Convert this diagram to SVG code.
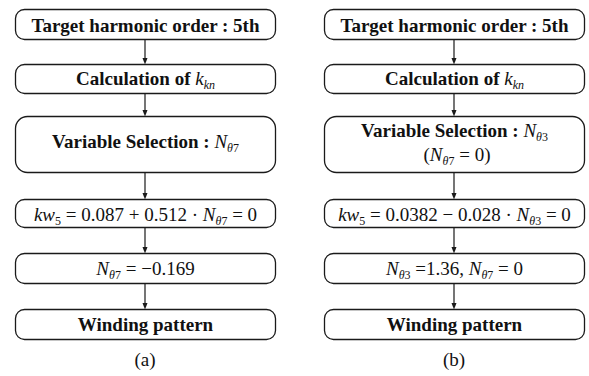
<svg xmlns="http://www.w3.org/2000/svg" width="589" height="376" viewBox="0 0 589 376">
<style>
.box{fill:#fff;stroke:#1a1a1a;stroke-width:1.3}
text,tspan{font-family:'Liberation Serif','Times New Roman',serif !important}
.b{font-weight:bold;font-size:19px;fill:#111}
.m{font-size:19px;fill:#111;font-weight:normal}
.i{font-style:italic}
.s{font-size:12px}
.lab{font-size:19px;fill:#111}
.c{stroke:#1a1a1a;stroke-width:1.2;fill:none}
.h{fill:#1a1a1a;stroke:none}
</style>
<rect width="589" height="376" fill="#fff"/>
<g id="connectors">
<line class="c" x1="145" y1="39" x2="145" y2="59"/><path class="h" d="M142.5,58 L147.5,58 L145,64.5 z"/>
<line class="c" x1="145" y1="93" x2="145" y2="111"/><path class="h" d="M142.5,110 L147.5,110 L145,116.5 z"/>
<line class="c" x1="145" y1="172" x2="145" y2="194"/><path class="h" d="M142.5,193 L147.5,193 L145,199.5 z"/>
<line class="c" x1="145" y1="227" x2="145" y2="248"/><path class="h" d="M142.5,247 L147.5,247 L145,253.5 z"/>
<line class="c" x1="145" y1="283" x2="145" y2="304"/><path class="h" d="M142.5,303 L147.5,303 L145,309.5 z"/>
<line class="c" x1="454" y1="39" x2="454" y2="59"/><path class="h" d="M451.5,58 L456.5,58 L454,64.5 z"/>
<line class="c" x1="454" y1="93" x2="454" y2="111"/><path class="h" d="M451.5,110 L456.5,110 L454,116.5 z"/>
<line class="c" x1="454" y1="172" x2="454" y2="194"/><path class="h" d="M451.5,193 L456.5,193 L454,199.5 z"/>
<line class="c" x1="454" y1="227" x2="454" y2="248"/><path class="h" d="M451.5,247 L456.5,247 L454,253.5 z"/>
<line class="c" x1="454" y1="283" x2="454" y2="304"/><path class="h" d="M451.5,303 L456.5,303 L454,309.5 z"/>
</g>
<g id="a1"><rect class="box" x="15.5" y="9.5" width="260" height="30" rx="9"/>
<text class="b" style="font-family:'Liberation Serif',serif !important" x="145.5" y="31.5" text-anchor="middle">Target harmonic order : 5th</text></g>
<g id="a2"><rect class="box" x="15.5" y="64.5" width="260" height="29" rx="9"/>
<text class="b" style="font-family:'Liberation Serif',serif !important" x="145.5" y="85" text-anchor="middle">Calculation of  <tspan class="m i">k</tspan><tspan class="m i s" dy="4">kn</tspan></text></g>
<g id="a3"><rect class="box" x="15.5" y="116.5" width="260" height="56" rx="12"/>
<text class="b" style="font-family:'Liberation Serif',serif !important" x="145.5" y="148" text-anchor="middle">Variable Selection :  <tspan class="m i">N</tspan><tspan class="m i s" dy="4">θ</tspan><tspan class="m s">7</tspan></text></g>
<g id="a4"><rect class="box" x="15.5" y="199.5" width="260" height="28" rx="9"/>
<text class="m" style="font-family:'Liberation Serif',serif !important" x="145.5" y="221" text-anchor="middle"><tspan class="i">kw</tspan><tspan class="s" dy="4">5</tspan><tspan dy="-4"> = 0.087 + 0.512 · </tspan><tspan class="i">N</tspan><tspan class="i s" dy="4">θ</tspan><tspan class="s">7</tspan><tspan dy="-4"> = 0</tspan></text></g>
<g id="a5"><rect class="box" x="15.5" y="253.5" width="260" height="30" rx="9"/>
<text class="m" style="font-family:'Liberation Serif',serif !important" x="145.5" y="274.5" text-anchor="middle"><tspan class="i">N</tspan><tspan class="i s" dy="4">θ</tspan><tspan class="s">7</tspan><tspan dy="-4"> = −0.169</tspan></text></g>
<g id="a6"><rect class="box" x="15.5" y="309.5" width="260" height="30" rx="9"/>
<text class="b" style="font-family:'Liberation Serif',serif !important" x="145.5" y="330.5" text-anchor="middle">Winding pattern</text></g>
<text class="lab" style="font-family:'Liberation Serif',serif !important" x="145" y="366" text-anchor="middle">(a)</text>

<g id="b1"><rect class="box" x="324.5" y="9.5" width="260" height="30" rx="9"/>
<text class="b" style="font-family:'Liberation Serif',serif !important" x="454.5" y="31.5" text-anchor="middle">Target harmonic order : 5th</text></g>
<g id="b2"><rect class="box" x="324.5" y="64.5" width="260" height="29" rx="9"/>
<text class="b" style="font-family:'Liberation Serif',serif !important" x="454.5" y="85" text-anchor="middle">Calculation of  <tspan class="m i">k</tspan><tspan class="m i s" dy="4">kn</tspan></text></g>
<g id="b3"><rect class="box" x="324.5" y="116.5" width="260" height="56" rx="12"/>
<text class="b" style="font-family:'Liberation Serif',serif !important" x="454.5" y="137" text-anchor="middle">Variable Selection :  <tspan class="m i">N</tspan><tspan class="m i s" dy="4">θ</tspan><tspan class="m s">3</tspan></text>
<text class="m" style="font-family:'Liberation Serif',serif !important" x="457" y="161" text-anchor="middle">(<tspan class="i">N</tspan><tspan class="i s" dy="4">θ</tspan><tspan class="s">7</tspan><tspan dy="-4"> = 0)</tspan></text></g>
<g id="b4"><rect class="box" x="324.5" y="199.5" width="260" height="28" rx="9"/>
<text class="m" style="font-family:'Liberation Serif',serif !important" x="454.5" y="221" text-anchor="middle"><tspan class="i">kw</tspan><tspan class="s" dy="4">5</tspan><tspan dy="-4"> = 0.0382 − 0.028 · </tspan><tspan class="i">N</tspan><tspan class="i s" dy="4">θ</tspan><tspan class="s">3</tspan><tspan dy="-4"> = 0</tspan></text></g>
<g id="b5"><rect class="box" x="324.5" y="253.5" width="260" height="30" rx="9"/>
<text class="m" style="font-family:'Liberation Serif',serif !important" x="454.5" y="274.5" text-anchor="middle"><tspan class="i">N</tspan><tspan class="i s" dy="4">θ</tspan><tspan class="s">3</tspan><tspan dy="-4"> =1.36,  </tspan><tspan class="i">N</tspan><tspan class="i s" dy="4">θ</tspan><tspan class="s">7</tspan><tspan dy="-4"> = 0</tspan></text></g>
<g id="b6"><rect class="box" x="324.5" y="309.5" width="260" height="30" rx="9"/>
<text class="b" style="font-family:'Liberation Serif',serif !important" x="454.5" y="330.5" text-anchor="middle">Winding pattern</text></g>
<text class="lab" style="font-family:'Liberation Serif',serif !important" x="454" y="366" text-anchor="middle">(b)</text>
</svg>
